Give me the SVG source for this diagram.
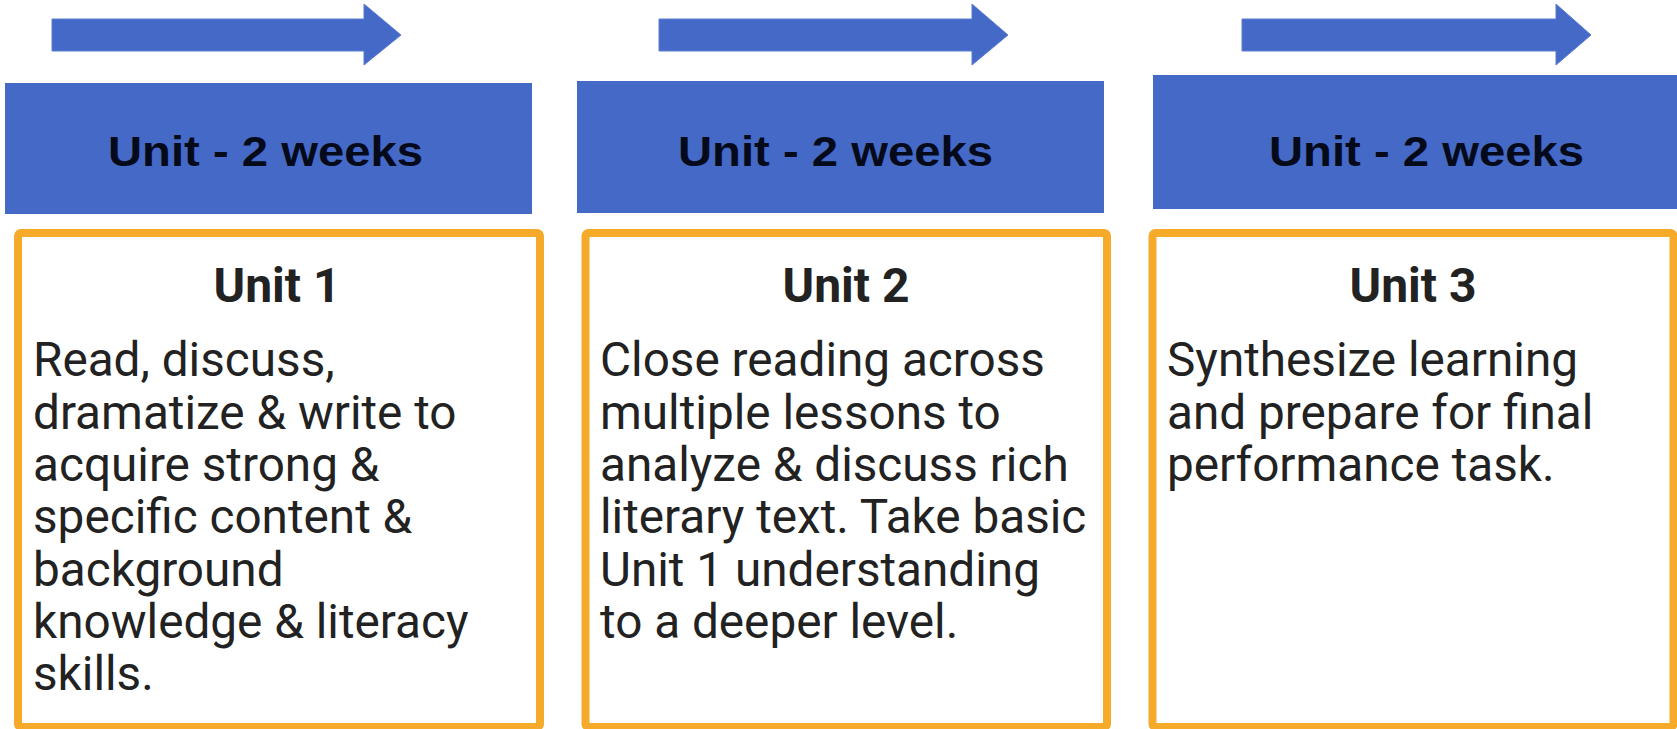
<svg xmlns="http://www.w3.org/2000/svg" width="1677" height="729" viewBox="0 0 1677 729">
<style>
.arrow{fill:#4469C6;stroke:#5a7fd2;stroke-width:1}
.band{fill:#4469C6}
.hdr{font-family:"Liberation Sans",Arial,sans-serif;font-weight:bold;font-size:42px;fill:#050a1a}
.box{fill:#ffffff;stroke:#F5AA2A;stroke-width:8}
.ttl{font-family:Roboto,"Noto Sans",sans-serif;font-weight:bold;font-size:48px;fill:#222222;text-anchor:middle}
.body{font-family:Roboto,"Noto Sans",sans-serif;font-size:47.7px;fill:#222222}
</style>
<rect width="1677" height="729" fill="#ffffff"/>
<g id="connectors">
<polygon class="arrow" points="52,19 364,19 364,4 401,35 364,65 364,51 52,51"/>
<polygon class="arrow" points="659,19 972,19 972,4 1008,35 972,65 972,51 659,51"/>
<polygon class="arrow" points="1242,19 1556,19 1556,4 1591,35 1556,65 1556,51 1242,51"/>
</g>
<g id="header1">
<rect class="band" x="5" y="83" width="527" height="131"/>
<text class="hdr" x="108" y="166" textLength="315" lengthAdjust="spacingAndGlyphs">Unit - 2 weeks</text>
</g>
<g id="header2">
<rect class="band" x="577" y="81" width="527" height="132"/>
<text class="hdr" x="678" y="166" textLength="315" lengthAdjust="spacingAndGlyphs">Unit - 2 weeks</text>
</g>
<g id="header3">
<rect class="band" x="1153" y="75" width="547" height="134"/>
<text class="hdr" x="1269" y="166" textLength="315" lengthAdjust="spacingAndGlyphs">Unit - 2 weeks</text>
</g>
<g id="unit1">
<rect class="box" x="18" y="233" width="522" height="494" rx="3"/>
<text class="ttl" x="277" y="302">Unit 1</text>
<text class="body" x="33" y="376">Read, discuss,</text>
<text class="body" x="33" y="428.5">dramatize &amp; write to</text>
<text class="body" x="33" y="481">acquire strong &amp;</text>
<text class="body" x="33" y="533">specific content &amp;</text>
<text class="body" x="33" y="585.5">background</text>
<text class="body" x="33" y="638">knowledge &amp; literacy</text>
<text class="body" x="33" y="690">skills.</text>
</g>
<g id="unit2">
<rect class="box" x="585.5" y="233" width="521.5" height="494" rx="3"/>
<text class="ttl" x="846" y="302">Unit 2</text>
<text class="body" x="600" y="376">Close reading across</text>
<text class="body" x="600" y="428.5">multiple lessons to</text>
<text class="body" x="600" y="481">analyze &amp; discuss rich</text>
<text class="body" x="600" y="533">literary text. Take basic</text>
<text class="body" x="600" y="585.5">Unit 1 understanding</text>
<text class="body" x="600" y="638">to a deeper level.</text>
</g>
<g id="unit3">
<rect class="box" x="1152.5" y="233" width="521" height="494" rx="3"/>
<text class="ttl" x="1413" y="302">Unit 3</text>
<text class="body" x="1167" y="376">Synthesize learning</text>
<text class="body" x="1167" y="428.5">and prepare for final</text>
<text class="body" x="1167" y="481">performance task.</text>
</g>
</svg>
